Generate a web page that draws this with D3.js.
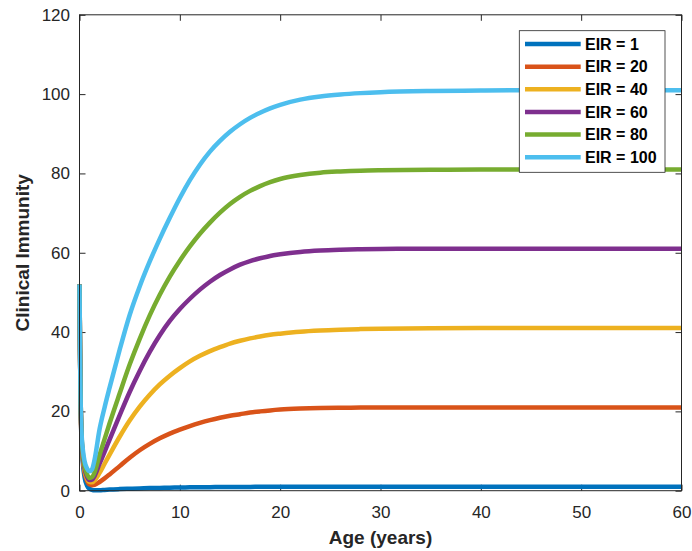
<!DOCTYPE html>
<html>
<head>
<meta charset="utf-8">
<script src="https://cdn.jsdelivr.net/npm/d3@7"></script>
<style>
  body { margin: 0; background: #fff; }
  svg { display: block; }
  text { font-family: "Liberation Sans", Arial, Helvetica, sans-serif; }
</style>
</head>
<body>
<svg id="chart" width="692" height="551"></svg>
<script>
// Age grid (years) shared by every series
const ages = [0, 0.05, 0.1, 0.2, 0.35, 0.5, 0.75, 1, 1.25, 1.5,
              2, 2.5, 3, 4, 5, 6, 7, 8, 9, 10,
              11, 12, 13, 14, 15, 16, 17, 18, 19, 20,
              22, 24, 26, 28, 30, 35, 40, 45, 50, 55,
              60];

// Clinical immunity by age for each entomological inoculation rate
const eir1   = [52, 35.5, 24.5, 12.5, 6.5, 3.5, 1.3, 0.5, 0.2, 0.1,
                0.12, 0.2, 0.28, 0.4, 0.5, 0.58, 0.65, 0.71, 0.76, 0.8,
                0.84, 0.87, 0.9, 0.92, 0.94, 0.95, 0.96, 0.97, 0.98, 0.98,
                0.99, 1, 1, 1, 1, 1, 1, 1, 1, 1,
                1];
const eir20  = [52, 35.5, 24.5, 13, 7.5, 4.7, 2.5, 1.6, 1.4, 1.5,
                2.2, 3.1, 4.1, 6.2, 8.3, 10.2, 11.8, 13.2, 14.4, 15.4,
                16.3, 17.1, 17.8, 18.4, 18.9, 19.3, 19.7, 20, 20.25, 20.45,
                20.7, 20.85, 20.92, 20.96, 21, 21, 21, 21, 21, 21,
                21];
const eir40  = [52, 36, 25, 13.5, 8, 5.2, 3, 2.2, 2.1, 2.6,
                4.5, 6.8, 9.1, 13.6, 17.7, 21.2, 24.2, 26.8, 29, 30.9,
                32.6, 34, 35.2, 36.2, 37.1, 37.8, 38.4, 38.9, 39.3, 39.6,
                40.1, 40.4, 40.6, 40.75, 40.85, 40.95, 41, 41, 41, 41,
                41];
const eir60  = [52, 36, 25, 14, 8.5, 5.7, 3.5, 2.7, 2.8, 3.7,
                6.8, 9.8, 12.9, 19, 24.9, 30.2, 35, 39.2, 42.8, 45.8,
                48.4, 50.7, 52.7, 54.4, 55.8, 57, 57.9, 58.6, 59.2, 59.6,
                60.2, 60.55, 60.75, 60.88, 60.95, 61, 61, 61, 61, 61,
                61];
const eir80  = [52, 36, 25, 14.5, 9, 6.3, 4.1, 3.2, 3.4, 4.6,
                9, 13, 17, 24.5, 31.8, 38.3, 44.2, 49.4, 54, 58,
                61.6, 64.8, 67.6, 70.1, 72.3, 74.1, 75.6, 76.8, 77.8, 78.6,
                79.6, 80.2, 80.5, 80.7, 80.8, 80.9, 81, 81, 81, 81,
                81];
const eir100 = [52, 36, 25, 15, 10, 7.5, 5.6, 4.9, 5.4, 7.8,
                15.5, 21, 26, 35.5, 44.3, 51.5, 57.8, 63.5, 68.8, 73.8,
                78.3, 82.2, 85.5, 88.2, 90.5, 92.4, 94, 95.3, 96.4, 97.3,
                98.6, 99.4, 99.9, 100.25, 100.5, 100.8, 100.9, 101, 101, 101,
                101];

const seriesNames  = ["EIR = 1", "EIR = 20", "EIR = 40", "EIR = 60", "EIR = 80", "EIR = 100"];
const seriesValues = [eir1, eir20, eir40, eir60, eir80, eir100];
const seriesColors = ["#0072BD", "#D95319", "#EDB120", "#7E2F8E", "#77AC30", "#4DBEEE"];

const xTicks = [0, 10, 20, 30, 40, 50, 60];
const yTicks = [0, 20, 40, 60, 80, 100, 120];

const xLabel = "Age (years)";
const yLabel = "Clinical Immunity";

// ---- layout ----
const plot = { left: 79.5, right: 681.5, top: 14.8, bottom: 490.7 };
const axisColor = "#262626";
const tickLen = 6;

const svg = d3.select("#chart");

const x = d3.scaleLinear().domain([0, 60]).range([plot.left, plot.right]);
const y = d3.scaleLinear().domain([0, 120]).range([plot.bottom, plot.top]);

// ---- axes (ticks point inward on all four sides) ----
function styleAxis(g) {
  g.select(".domain").remove();
  g.selectAll(".tick line").attr("stroke", axisColor).attr("stroke-width", 1);
  g.selectAll(".tick text").attr("fill", axisColor).style("font-size", "17px");
}

svg.append("g")
  .attr("transform", `translate(0,${plot.bottom})`)
  .call(d3.axisBottom(x).tickValues(xTicks).tickSize(-tickLen).tickPadding(15).tickFormat(d3.format("d")))
  .call(styleAxis);

svg.append("g")
  .attr("transform", `translate(0,${plot.top})`)
  .call(d3.axisTop(x).tickValues(xTicks).tickSize(-tickLen).tickFormat(""))
  .call(styleAxis);

svg.append("g")
  .attr("transform", `translate(${plot.left},0)`)
  .call(d3.axisLeft(y).tickValues(yTicks).tickSize(-tickLen).tickPadding(9.5).tickFormat(d3.format("d")))
  .call(styleAxis);

svg.append("g")
  .attr("transform", `translate(${plot.right},0)`)
  .call(d3.axisRight(y).tickValues(yTicks).tickSize(-tickLen).tickFormat(""))
  .call(styleAxis);

// ---- curves ----
const line = d3.line()
  .x((d, i) => x(ages[i]))
  .y(d => y(d))
  .curve(d3.curveMonotoneX);

svg.append("g")
  .selectAll("path")
  .data(seriesValues)
  .join("path")
  .attr("d", line)
  .attr("fill", "none")
  .attr("stroke", (d, i) => seriesColors[i])
  .attr("stroke-width", 4.5)
  .attr("stroke-linejoin", "round");

// ---- frame ----
svg.append("rect")
  .attr("x", plot.left).attr("y", plot.top)
  .attr("width", plot.right - plot.left).attr("height", plot.bottom - plot.top)
  .attr("fill", "none").attr("stroke", axisColor).attr("stroke-width", 1);

// ---- axis titles ----
svg.append("text")
  .attr("x", (plot.left + plot.right) / 2).attr("y", 544)
  .attr("text-anchor", "middle")
  .attr("fill", axisColor)
  .style("font-size", "19px").style("font-weight", "bold")
  .text(xLabel);

svg.append("text")
  .attr("transform", `translate(29,${(plot.top + plot.bottom) / 2}) rotate(-90)`)
  .attr("text-anchor", "middle")
  .attr("fill", axisColor)
  .style("font-size", "19px").style("font-weight", "bold")
  .text(yLabel);

// ---- legend ----
const legend = { x: 519.3, y: 30.7, w: 145.7, h: 141.6, row0: 44, rowStep: 22.65 };
const lg = svg.append("g");
lg.append("rect")
  .attr("x", legend.x).attr("y", legend.y)
  .attr("width", legend.w).attr("height", legend.h)
  .attr("fill", "#fff").attr("stroke", axisColor).attr("stroke-width", 0.8);

const rows = lg.selectAll("g.row")
  .data(seriesNames)
  .join("g")
  .attr("class", "row")
  .attr("transform", (d, i) => `translate(0,${legend.row0 + i * legend.rowStep})`);

rows.append("line")
  .attr("x1", 525).attr("x2", 580.7)
  .attr("stroke", (d, i) => seriesColors[i])
  .attr("stroke-width", 4.5);

rows.append("text")
  .attr("x", 585).attr("dy", "0.36em")
  .attr("fill", "#000")
  .style("font-size", "16px").style("font-weight", "bold")
  .text(d => d);
</script>
</body>
</html>
